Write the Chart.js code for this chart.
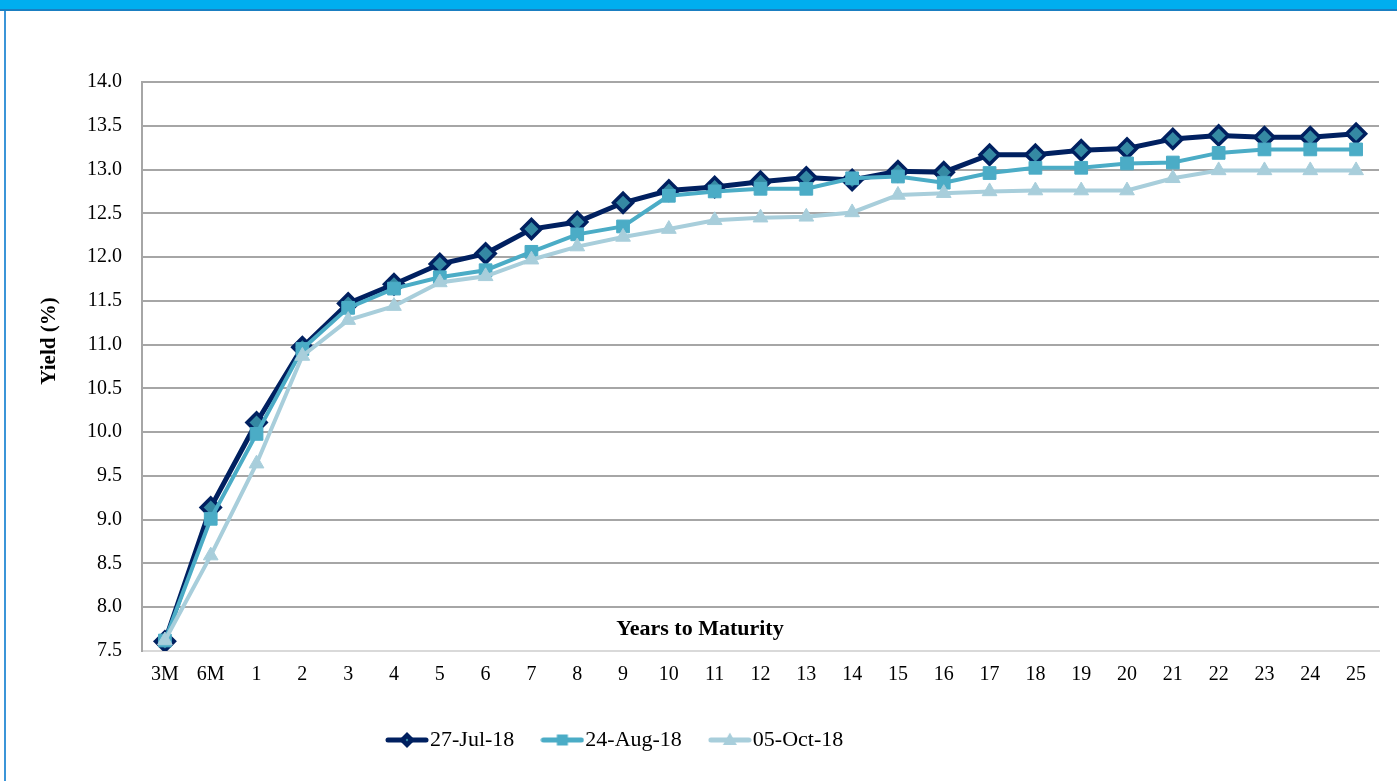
<!DOCTYPE html>
<html>
<head>
<meta charset="utf-8">
<script src="https://cdn.jsdelivr.net/npm/chart.js@4.4.1/dist/chart.umd.min.js"></script>
<style>
  html, body { margin: 0; padding: 0; background: #fff; }
  #wrap { position: relative; width: 1397px; height: 781px; overflow: hidden; }
  #topbar { position: absolute; left: 0; top: 0; width: 1397px; height: 9px; background: #00aeef; border-bottom: 2px solid #1a7fc2; }
  #leftbar { position: absolute; left: 4px; top: 11px; width: 2px; height: 770px; background: #3b95d8; }
  canvas { position: absolute; left: 0; top: 0; }
</style>
</head>
<body>
<div id="wrap">
  <canvas id="yieldChart" width="1397" height="781"></canvas>
  <div id="topbar"></div>
  <div id="leftbar"></div>
</div>
<script>
//////////////////// DATA

const maturities = ["3M","6M","1","2","3","4","5","6","7","8","9","10","11","12","13","14","15","16","17","18","19","20","21","22","23","24","25"];

const jul18 = [7.61, 9.14, 10.11, 10.97, 11.47, 11.69, 11.92, 12.04, 12.32, 12.40, 12.62, 12.76, 12.80, 12.86, 12.91, 12.88, 12.98, 12.97, 13.17, 13.17, 13.22, 13.24, 13.35, 13.39, 13.37, 13.37, 13.41];
const aug18 = [7.62, 9.01, 9.98, 10.95, 11.42, 11.64, 11.77, 11.85, 12.06, 12.26, 12.35, 12.70, 12.75, 12.78, 12.78, 12.90, 12.92, 12.85, 12.96, 13.02, 13.02, 13.07, 13.08, 13.19, 13.23, 13.23, 13.23];
const oct18 = [7.62, 8.59, 9.64, 10.87, 11.28, 11.44, 11.71, 11.78, 11.97, 12.12, 12.23, 12.32, 12.42, 12.45, 12.46, 12.51, 12.71, 12.73, 12.75, 12.76, 12.76, 12.76, 12.90, 12.99, 12.99, 12.99, 12.99];

const seriesNames = ["27-Jul-18", "24-Aug-18", "05-Oct-18"];
const yTicks = { min: 7.5, max: 14.0, step: 0.5 };
const xTitle = "Years to Maturity";
const yTitle = "Yield (%)";

//////////////////// COLOURS

const navy = "#002060";
const navyFill = "#3589a3";
const teal = "#4bacc6";
const pale = "#a8cedb";
const serif = '"Liberation Serif", "Times New Roman", serif';

//////////////////// LEGEND ICONS (line + marker)

function legendIcon(color, marker) {
    let c = document.createElement("canvas");
    c.width = 44;
    c.height = 22;
    let g = c.getContext("2d");
    g.strokeStyle = color;
    g.lineWidth = 5;
    g.lineCap = "round";
    g.beginPath();
    g.moveTo(3, 11);
    g.lineTo(41, 11);
    g.stroke();
    g.fillStyle = color;
    g.beginPath();
    if (marker === "diamond") {
        g.moveTo(22, 3); g.lineTo(30, 11); g.lineTo(22, 19); g.lineTo(14, 11);
        g.closePath();
        g.fill();
        g.fillStyle = navyFill;
        g.beginPath();
        g.arc(22, 11, 1.2, 0, Math.PI * 2);
        g.fill();
    } else if (marker === "square") {
        g.rect(16.5, 5.5, 11, 11);
        g.fill();
    } else {
        g.moveTo(22, 3.5); g.lineTo(29, 16); g.lineTo(15, 16);
        g.closePath();
        g.fill();
    }
    return c;
}

const icons = [legendIcon(navy, "diamond"), legendIcon(teal, "square"), legendIcon(pale, "triangle")];

//////////////////// PLUGINS

// axis titles sit inside / beside the plot like the original
const axisTitles = {
    id: "axisTitles",
    afterDraw(chart) {
        const ctx = chart.ctx;
        const a = chart.chartArea;
        ctx.save();
        ctx.fillStyle = "#000";
        ctx.font = "bold 22px " + serif;
        ctx.textAlign = "center";
        ctx.textBaseline = "middle";
        ctx.fillText(xTitle, a.left + 558, a.bottom - 22);
        ctx.font = "bold 21px " + serif;
        ctx.translate(50, a.top + 259);
        ctx.rotate(-Math.PI / 2);
        ctx.fillText(yTitle, 0, 0);
        ctx.restore();
    }
};

// legend is not centred on the page in the original
const legendSpot = {
    id: "legendSpot",
    afterLayout(chart) {
        chart.legend.left = 395 - 36;
        chart.legend.right = 1397;
        chart.legend.top = 693;
    }
};

//////////////////// GRAPH

let ctx = document.getElementById("yieldChart");
let yieldChart = new Chart(ctx, {
    type: 'line',
    data: {
        labels: maturities,
        datasets: [
            {
                label: seriesNames[0],
                data: jul18,
                order: 2,
                borderColor: navy,
                backgroundColor: navy,
                borderWidth: 5,
                tension: 0,
                pointStyle: 'rectRot',
                pointRadius: 9.5,
                pointBorderWidth: 3.5,
                pointBorderColor: navy,
                pointBackgroundColor: navyFill,
            },
            {
                label: seriesNames[1],
                data: aug18,
                order: 1,
                borderColor: teal,
                backgroundColor: teal,
                borderWidth: 4,
                tension: 0,
                pointStyle: 'rect',
                pointRadius: 9,
                pointBorderWidth: 1,
                pointBorderColor: teal,
                pointBackgroundColor: teal,
            },
            {
                label: seriesNames[2],
                data: oct18,
                order: 0,
                borderColor: pale,
                backgroundColor: pale,
                borderWidth: 4,
                tension: 0,
                pointStyle: 'triangle',
                pointRadius: 8.5,
                pointBorderWidth: 1,
                pointBorderColor: pale,
                pointBackgroundColor: pale,
            },
        ]
    },
    options: {
        responsive: false,
        animation: false,
        layout: {
            padding: { top: 82, right: 18, bottom: 20, left: 0 }
        },
        scales: {
            x: {
                offset: true,
                grid: { display: false, drawTicks: false },
                border: { display: true, color: "#d9d9d9", width: 2 },
                ticks: {
                    color: "#000",
                    padding: 12,
                    maxRotation: 0,
                    autoSkip: false,
                    font: { family: serif, size: 20 }
                },
                afterFit: function(scale) { scale.height = 42; }
            },
            y: {
                min: yTicks.min,
                max: yTicks.max,
                grid: {
                    drawTicks: false,
                    lineWidth: 2,
                    color: function(c) { return c.tick && c.tick.value === yTicks.min ? "#d9d9d9" : "#a6a6a6"; }
                },
                border: { display: true, color: "#a6a6a6", width: 2 },
                ticks: {
                    stepSize: yTicks.step,
                    color: "#000",
                    padding: 20,
                    font: { family: serif, size: 20 },
                    callback: function(v) { return Number(v).toFixed(1); }
                },
                afterFit: function(scale) { scale.width = 142; }
            }
        },
        plugins: {
            tooltip: { enabled: false },
            legend: {
                display: true,
                position: 'bottom',
                align: 'start',
                labels: {
                    usePointStyle: true,
                    pointStyleWidth: 24,
                    padding: 36,
                    color: "#000",
                    font: { family: serif, size: 22 },
                    generateLabels: function(chart) {
                        return seriesNames.map(function(name, i) {
                            return {
                                text: name,
                                datasetIndex: i,
                                pointStyle: icons[i],
                                fillStyle: "#000",
                                strokeStyle: "#000",
                                lineWidth: 0,
                                fontColor: "#000",
                                hidden: false
                            };
                        });
                    }
                }
            }
        }
    },
    plugins: [axisTitles, legendSpot]
});
</script>
</body>
</html>
